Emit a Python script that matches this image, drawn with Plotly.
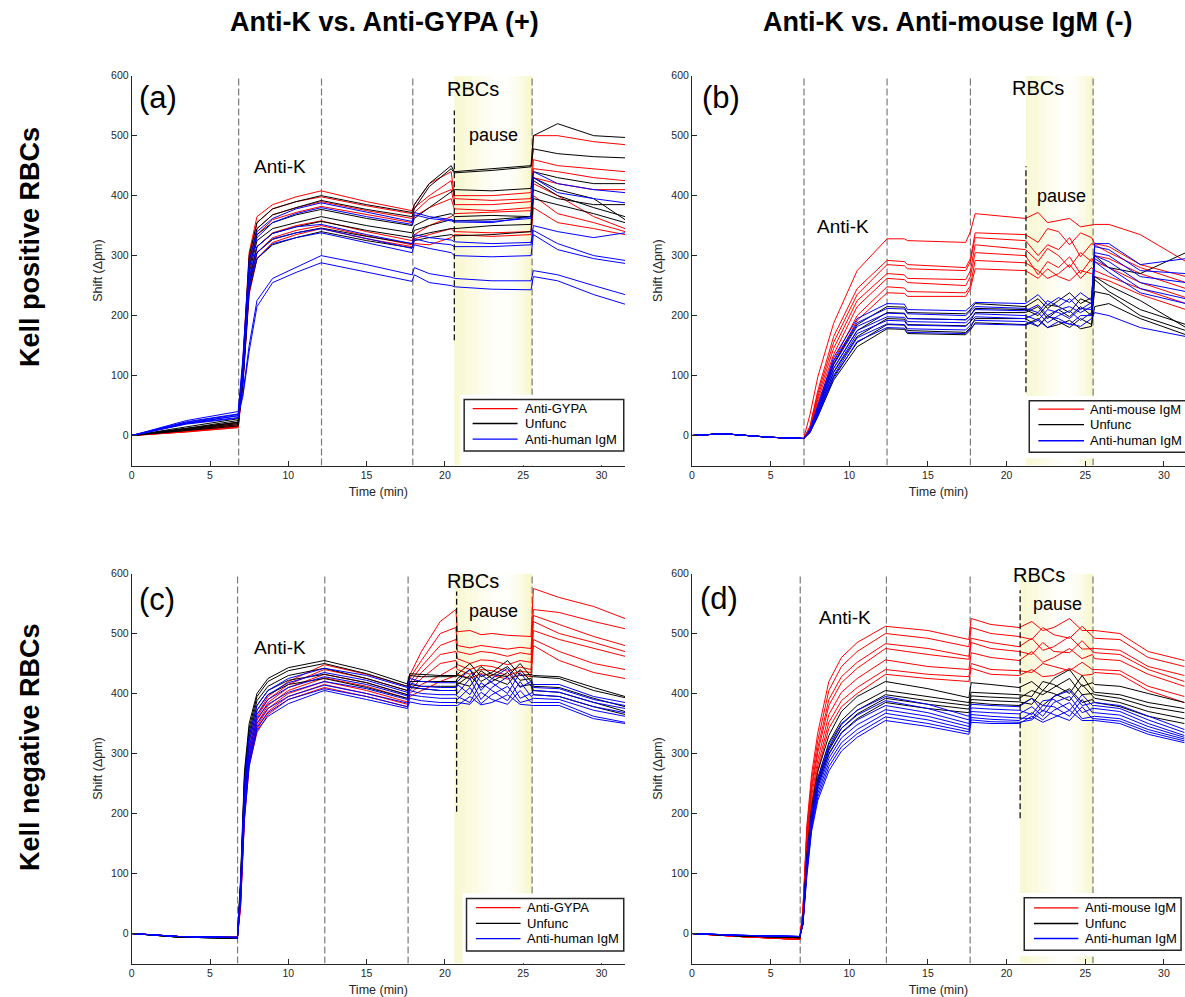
import plotly.graph_objects as go
import numpy as np

# ---------------- data ----------------
TIME_A = [0, 3.5, 6.8, 7.1, 7.5, 8.0, 9.0, 10.5, 12.1, 15.0, 17.9, 18.05, 19.0, 20.4, 20.6, 23.0, 25.5, 25.65, 27.2, 29.5, 31.5]
A_RED = [
    [0, 10, 22, 125, 305, 365, 385, 398, 408, 390, 375, 385, 420, 440, 400, 400, 405, 500, 500, 490, 485],
    [0, 9, 20, 115, 295, 355, 378, 390, 398, 383, 370, 380, 400, 425, 395, 392, 395, 460, 450, 445, 440],
    [0, 8, 18, 110, 285, 345, 368, 380, 390, 375, 362, 372, 395, 410, 385, 385, 390, 445, 440, 430, 425],
    [0, 7, 16, 105, 275, 335, 360, 372, 382, 368, 355, 365, 380, 395, 378, 375, 380, 430, 420, 410, 410],
    [0, 7, 15, 95, 255, 315, 338, 350, 358, 340, 325, 335, 350, 365, 370, 372, 375, 420, 400, 365, 345],
    [0, 6, 14, 90, 245, 305, 330, 342, 350, 333, 318, 328, 335, 345, 340, 338, 340, 400, 370, 355, 340],
    [0, 6, 13, 85, 235, 295, 322, 335, 345, 328, 315, 320, 318, 330, 335, 332, 335, 380, 355, 345, 335],
]
A_BLACK = [
    [0, 12, 22, 120, 300, 355, 378, 390, 400, 385, 372, 385, 420, 450, 440, 445, 450, 500, 520, 500, 497],
    [0, 10, 20, 110, 290, 345, 368, 380, 392, 377, 365, 378, 415, 445, 438, 442, 448, 478, 470, 465, 463],
    [0, 12, 25, 105, 280, 335, 355, 368, 377, 362, 350, 362, 380, 405, 410, 408, 412, 440, 430, 420, 420],
    [0, 9, 18, 100, 270, 325, 345, 355, 365, 350, 338, 350, 362, 370, 365, 367, 365, 430, 410, 395, 360],
    [0, 14, 28, 95, 260, 315, 337, 348, 357, 342, 330, 342, 350, 360, 358, 360, 365, 425, 400, 380, 365],
    [0, 8, 16, 90, 250, 305, 327, 338, 346, 332, 320, 332, 338, 345, 345, 350, 352, 410, 395, 385, 385],
    [0, 11, 22, 85, 240, 295, 318, 330, 340, 325, 313, 325, 330, 335, 333, 335, 340, 395, 385, 370, 355],
]
A_BLUE = [
    [0, 25, 40, 130, 290, 340, 362, 378, 388, 372, 357, 372, 365, 360, 358, 357, 362, 430, 405, 395, 388],
    [0, 23, 36, 120, 280, 330, 355, 370, 380, 365, 352, 368, 362, 358, 356, 355, 365, 440, 420, 410, 405],
    [0, 21, 33, 110, 265, 315, 337, 348, 352, 335, 320, 335, 330, 326, 323, 320, 322, 350, 340, 330, 338],
    [0, 20, 30, 100, 255, 305, 328, 338, 345, 328, 312, 328, 322, 318, 315, 315, 318, 342, 320, 300, 292],
    [0, 19, 29, 95, 245, 295, 320, 330, 338, 322, 305, 318, 312, 305, 300, 298, 300, 335, 310, 295, 287],
    [0, 22, 35, 70, 150, 225, 262, 280, 300, 285, 268, 280, 270, 264, 262, 258, 258, 275, 268, 250, 235],
    [0, 20, 33, 65, 140, 215, 255, 272, 288, 272, 257, 268, 255, 250, 248, 244, 243, 265, 258, 235, 219],
]

TIME_B = [0, 2, 5, 7.1, 7.5, 8.0, 9.0, 10.5, 12.4, 13.5, 13.7, 17.4, 17.7, 18.0,
          21.2, 22.0, 22.6, 23.3, 24.0, 24.7, 25.4, 25.6, 26.5, 28.5, 31.4]
B_RED = [
    [0, 3, -3, -5, 35, 98, 187, 275, 328, 328, 325, 322, 340, 370, 362, 372, 355, 358, 362, 348, 352, 352, 352, 335, 290],
    [0, 3, -3, -5, 15, 75, 165, 245, 292, 290, 285, 280, 295, 338, 335, 322, 345, 340, 318, 338, 330, 320, 315, 285, 265],
    [0, 3, -3, -5, 15, 70, 155, 235, 285, 283, 278, 275, 290, 330, 325, 300, 318, 310, 330, 298, 320, 318, 305, 280, 255],
    [0, 3, -3, -5, 12, 65, 145, 225, 270, 268, 262, 260, 275, 318, 310, 290, 312, 300, 280, 305, 290, 300, 295, 270, 245],
    [0, 3, -3, -5, 12, 60, 135, 215, 262, 260, 255, 250, 265, 305, 300, 268, 290, 280, 298, 270, 295, 290, 280, 255, 230],
    [0, 3, -3, -5, 10, 55, 125, 200, 248, 246, 240, 238, 250, 292, 288, 275, 262, 270, 285, 262, 280, 275, 265, 245, 220],
    [0, 3, -3, -5, 10, 50, 118, 192, 238, 237, 232, 232, 245, 278, 275, 262, 278, 265, 258, 275, 270, 265, 258, 235, 210],
]
B_BLACK = [
    [0, 3, -3, -5, 8, 45, 120, 185, 215, 214, 205, 203, 210, 220, 215, 228, 212, 225, 238, 220, 230, 300, 280, 270, 305],
    [0, 3, -3, -5, 8, 42, 112, 175, 205, 204, 195, 193, 200, 212, 210, 200, 218, 215, 205, 228, 220, 265, 250, 225, 180],
    [0, 3, -3, -5, 6, 38, 105, 165, 195, 194, 185, 183, 190, 205, 205, 215, 195, 210, 198, 215, 200, 240, 235, 200, 175],
    [0, 3, -3, -5, 5, 35, 98, 155, 185, 184, 175, 172, 180, 195, 195, 182, 200, 190, 180, 195, 185, 215, 220, 195, 168],
    [0, 3, -3, -5, 5, 32, 92, 148, 178, 177, 170, 168, 176, 188, 185, 195, 180, 185, 192, 178, 182, 260, 240, 210, 185],
]
B_BLUE = [
    [0, 3, -3, -5, 10, 50, 130, 195, 220, 219, 210, 208, 215, 222, 220, 235, 218, 230, 222, 238, 225, 320, 320, 285, 295],
    [0, 3, -3, -5, 9, 47, 124, 188, 212, 211, 203, 200, 208, 215, 212, 205, 225, 215, 228, 210, 222, 315, 310, 275, 270],
    [0, 3, -3, -5, 8, 44, 118, 182, 204, 203, 195, 193, 200, 210, 208, 218, 200, 210, 215, 205, 215, 305, 300, 265, 255],
    [0, 3, -3, -5, 7, 41, 112, 175, 198, 197, 190, 188, 195, 203, 200, 192, 210, 205, 195, 212, 210, 300, 290, 255, 240],
    [0, 3, -3, -5, 7, 38, 106, 170, 192, 191, 184, 182, 190, 198, 195, 205, 188, 200, 208, 192, 205, 295, 280, 245, 228],
    [0, 3, -3, -5, 6, 35, 100, 163, 186, 185, 178, 176, 184, 192, 190, 182, 198, 195, 185, 200, 200, 290, 272, 238, 220],
    [0, 3, -3, -5, 5, 32, 95, 157, 180, 179, 172, 170, 178, 186, 184, 192, 180, 190, 186, 182, 195, 205, 200, 180, 165],
]

TIME_C = [0, 3, 6.75, 6.95, 7.2, 7.5, 8.0, 8.7, 10.0, 12.3, 15.0, 17.6, 17.75, 18.5, 19.7, 20.7,
          20.8, 21.6, 22.3, 23.0, 24.0, 24.8, 25.5, 25.65, 27.3, 29.5, 31.5]
C_RED = [
    [0, -5, -6, 60, 220, 310, 365, 395, 420, 448, 432, 412, 430, 470, 520, 540, 503, 505, 498, 500, 497, 496, 495, 575, 560, 545, 525],
    [0, -5, -6, 55, 215, 305, 360, 390, 415, 440, 425, 405, 425, 455, 500, 510, 480, 476, 480, 478, 474, 477, 475, 540, 535, 520, 508],
    [0, -5, -6, 52, 210, 300, 355, 385, 410, 432, 418, 398, 418, 445, 480, 490, 470, 465, 470, 468, 462, 468, 465, 530, 515, 495, 480],
    [0, -5, -6, 50, 205, 295, 350, 380, 405, 426, 412, 392, 412, 435, 465, 470, 458, 450, 456, 455, 448, 455, 452, 520, 500, 485, 470],
    [0, -5, -7, 48, 200, 290, 345, 375, 400, 420, 405, 386, 405, 425, 450, 455, 448, 440, 447, 445, 437, 444, 440, 505, 490, 475, 462],
    [0, -5, -7, 45, 195, 285, 340, 370, 395, 415, 400, 382, 400, 415, 430, 445, 440, 432, 440, 438, 430, 437, 435, 490, 470, 450, 440],
    [0, -5, -7, 42, 190, 280, 335, 365, 390, 410, 395, 378, 395, 405, 420, 430, 432, 425, 433, 430, 424, 431, 428, 480, 455, 435, 425],
]
C_BLACK = [
    [0, -6, -8, 90, 270, 350, 400, 425, 443, 455, 438, 416, 433, 432, 430, 430, 432, 450, 428, 435, 455, 430, 432, 430, 428, 410, 395],
    [0, -6, -8, 85, 260, 342, 395, 420, 438, 450, 433, 412, 430, 428, 428, 428, 430, 425, 445, 432, 428, 450, 428, 428, 425, 405, 393],
    [0, -6, -8, 80, 255, 335, 388, 412, 430, 442, 425, 405, 420, 420, 420, 420, 425, 440, 420, 430, 445, 422, 425, 412, 410, 392, 378],
    [0, -6, -8, 75, 245, 328, 380, 405, 422, 432, 418, 398, 415, 412, 412, 412, 418, 412, 438, 425, 415, 440, 420, 405, 402, 385, 370],
    [0, -6, -8, 70, 235, 320, 372, 398, 415, 425, 410, 392, 410, 408, 405, 405, 415, 430, 410, 420, 435, 412, 415, 398, 395, 378, 365],
]
C_BLUE = [
    [0, -5, -6, 80, 250, 330, 380, 405, 425, 442, 430, 410, 425, 420, 418, 418, 420, 440, 405, 425, 442, 410, 420, 415, 415, 395, 385],
    [0, -5, -6, 75, 240, 320, 372, 398, 418, 435, 422, 402, 418, 412, 410, 410, 415, 398, 432, 418, 400, 435, 412, 410, 408, 390, 380],
    [0, -5, -7, 70, 230, 310, 365, 390, 410, 428, 415, 396, 412, 408, 405, 405, 400, 425, 390, 410, 428, 392, 400, 405, 402, 385, 375],
    [0, -5, -7, 65, 220, 300, 358, 382, 402, 420, 408, 390, 405, 400, 398, 398, 395, 385, 418, 405, 388, 420, 395, 398, 395, 378, 368],
    [0, -5, -7, 60, 210, 292, 350, 375, 395, 414, 400, 384, 398, 395, 392, 392, 390, 410, 383, 398, 412, 385, 390, 392, 390, 372, 362],
    [0, -5, -7, 55, 200, 285, 343, 368, 390, 408, 395, 378, 392, 388, 385, 385, 385, 382, 402, 390, 382, 405, 385, 385, 385, 362, 352],
    [0, -5, -7, 50, 190, 278, 338, 362, 383, 405, 390, 375, 386, 382, 380, 380, 380, 395, 381, 385, 398, 382, 380, 380, 380, 358, 350],
]

TIME_D = [0, 3, 6.85, 7.05, 7.3, 7.6, 8.0, 8.7, 9.5, 10.5, 12.3, 15.0, 17.6, 17.75, 19.0,
          20.8, 21.6, 22.3, 23.0, 24.0, 24.8, 25.45, 25.6, 27.2, 29.0, 31.3]
D_RED = [
    [0, -5, -10, 40, 180, 265, 335, 420, 460, 485, 512, 505, 490, 525, 515, 510, 520, 505, 510, 525, 505, 505, 505, 500, 470, 455],
    [0, -5, -10, 38, 172, 255, 322, 405, 445, 470, 500, 492, 478, 510, 500, 495, 490, 510, 498, 492, 512, 495, 492, 490, 460, 445],
    [0, -5, -10, 35, 165, 245, 310, 390, 428, 452, 483, 475, 462, 492, 485, 478, 492, 472, 478, 495, 474, 475, 475, 472, 445, 430],
    [0, -5, -10, 33, 160, 238, 302, 380, 418, 442, 475, 465, 457, 485, 475, 470, 465, 485, 470, 468, 488, 470, 468, 465, 440, 420],
    [0, -5, -10, 30, 152, 228, 290, 365, 402, 425, 456, 445, 440, 468, 460, 455, 470, 452, 460, 475, 458, 465, 458, 455, 432, 412],
    [0, -5, -9, 28, 145, 218, 280, 352, 388, 410, 440, 432, 428, 450, 440, 438, 435, 450, 445, 438, 452, 440, 440, 438, 412, 395],
    [0, -5, -9, 26, 140, 210, 272, 342, 378, 400, 432, 425, 420, 442, 432, 430, 440, 428, 430, 442, 430, 432, 435, 432, 405, 385],
]
D_BLACK = [
    [0, -4, -7, 22, 130, 210, 270, 330, 370, 395, 420, 408, 393, 418, 415, 410, 420, 405, 425, 440, 412, 418, 415, 412, 400, 385],
    [0, -4, -7, 20, 125, 200, 260, 318, 355, 380, 405, 395, 385, 402, 400, 398, 395, 420, 415, 400, 430, 405, 402, 398, 385, 375],
    [0, -4, -7, 18, 120, 195, 255, 310, 348, 372, 398, 388, 380, 396, 394, 392, 405, 398, 410, 425, 398, 400, 398, 392, 378, 368],
    [0, -4, -7, 17, 115, 190, 250, 305, 342, 366, 392, 382, 374, 390, 388, 386, 382, 405, 400, 388, 415, 395, 392, 385, 370, 358],
    [0, -4, -7, 15, 110, 185, 245, 298, 335, 358, 385, 375, 368, 385, 382, 380, 392, 380, 395, 408, 385, 390, 385, 378, 362, 350],
]
D_BLUE = [
    [0, -3, -5, 20, 125, 200, 258, 315, 350, 372, 395, 382, 362, 382, 380, 378, 392, 370, 395, 405, 380, 385, 385, 380, 362, 340],
    [0, -3, -5, 19, 120, 195, 252, 308, 342, 364, 388, 375, 356, 376, 374, 372, 365, 388, 390, 372, 398, 380, 380, 375, 356, 335],
    [0, -3, -5, 18, 115, 190, 246, 300, 334, 356, 380, 368, 350, 370, 368, 366, 378, 362, 385, 395, 368, 375, 375, 370, 350, 330],
    [0, -3, -5, 17, 110, 185, 240, 292, 326, 348, 373, 362, 345, 365, 362, 360, 358, 380, 378, 362, 390, 368, 368, 364, 345, 327],
    [0, -3, -5, 16, 105, 180, 234, 285, 318, 340, 367, 356, 340, 360, 357, 355, 368, 356, 372, 385, 358, 362, 362, 358, 340, 324],
    [0, -3, -5, 15, 100, 175, 228, 278, 311, 333, 361, 350, 336, 356, 353, 352, 356, 372, 365, 355, 378, 358, 358, 354, 336, 321],
    [0, -3, -5, 14, 95, 170, 222, 271, 304, 327, 355, 345, 332, 352, 350, 350, 362, 352, 360, 372, 355, 355, 355, 350, 332, 318],
]

# injection (grey dashed) times, pause marker and pause band per panel
EVENTS_A = [6.83, 12.12, 17.95, 25.57]
EVENTS_B = [7.12, 12.4, 17.7, 25.5]
EVENTS_C = [6.76, 12.33, 17.65, 25.57]
EVENTS_D = [6.88, 12.36, 17.68, 25.49]
PAUSE_A, PAUSE_B, PAUSE_C, PAUSE_D = 20.6, 21.23, 20.75, 20.86
BAND_A, BAND_B, BAND_C, BAND_D = (20.6, 25.57), (21.23, 25.5), (20.6, 25.57), (20.86, 25.49)

LEGEND_POS = ["Anti-GYPA", "Unfunc", "Anti-human IgM"]
LEGEND_NEG = ["Anti-mouse IgM", "Unfunc", "Anti-human IgM"]
COL_TITLES = ["Anti-K vs. Anti-GYPA (+)", "Anti-K vs. Anti-mouse IgM (-)"]
ROW_TITLES = ["Kell positive RBCs", "Kell negative RBCs"]
X_TICKS = [0, 5, 10, 15, 20, 25, 30]
Y_TICKS = [0, 100, 200, 300, 400, 500, 600]

# ---------------- layout helpers ----------------
W, H = 1185, 997
FONT = "Liberation Sans, Arial, Helvetica, sans-serif"
AX = "#262626"
COLORS = ["#ff0000", "#000000", "#0000ff"]

panels = [
    dict(k="", lab="(a)", T=TIME_A, groups=[A_RED, A_BLACK, A_BLUE], ev=EVENTS_A, pz=PAUSE_A, pspan=(159, 542),
         band=BAND_A, xd=(131.7, 625), yd=(75.7, 465.5), xr=(0, 31.5), names=LEGEND_POS,
         labpos=(1.68, 564), antik=(9.45, 448), rbcs=(21.8, 577), pause=(23.1, 501),
         leg=dict(box=(21.23, 31.42, 60, -26), line=(21.77, 24.64), tx=24.96, rows=(45, 20, -6), wb=-50)),
    dict(k="2", lab="(b)", T=TIME_B, groups=[B_RED, B_BLACK, B_BLUE], ev=EVENTS_B, pz=PAUSE_B, pspan=(72, 449),
         band=BAND_B, xd=(692, 1185), yd=(75.7, 465.5), xr=(0, 31.34), names=LEGEND_NEG,
         labpos=(1.86, 563), antik=(9.58, 348), rbcs=(21.97, 580), pause=(23.5, 400),
         leg=dict(box=(21.44, 31.7, 58, -28), line=(22.02, 24.92), tx=25.19, rows=(44, 18, -8.7), wb=-38)),
    dict(k="3", lab="(c)", T=TIME_C, groups=[C_RED, C_BLACK, C_BLUE], ev=EVENTS_C, pz=PAUSE_C, pspan=(203, 570),
         band=BAND_C, xd=(131.7, 625), yd=(573.5, 963.5), xr=(0, 31.5), names=LEGEND_POS,
         labpos=(1.6, 557), antik=(9.47, 477), rbcs=(21.8, 588), pause=(23.1, 538),
         leg=dict(box=(21.38, 31.42, 58.5, -29), line=(21.98, 24.83), tx=25.1, rows=(43, 17, -8.7), wb=-50)),
    dict(k="4", lab="(d)", T=TIME_D, groups=[D_RED, D_BLACK, D_BLUE], ev=EVENTS_D, pz=PAUSE_D, pspan=(192, 572),
         band=BAND_D, xd=(692, 1185), yd=(573.5, 963.5), xr=(0, 31.34), names=LEGEND_NEG,
         labpos=(1.71, 558), antik=(9.7, 526), rbcs=(22.08, 597), pause=(23.23, 550),
         leg=dict(box=(21.12, 31.09, 59.4, -27.8), line=(21.74, 24.56), tx=24.85, rows=(42.8, 16.7, -8.3), wb=-38)),
]

fig = go.Figure()
shapes, annos = [], []
layout = {}

PROF_F = [0.0, 0.15, 0.35, 0.55, 0.68, 0.85, 0.97, 1.0]
PROF_V = [0.75, 0.58, 0.3, 0.04, 0.05, 0.38, 0.8, 0.92]
YEL = np.array([246, 245, 192])
NSTRIP = 30

for p in panels:
    xa, ya = "x" + p["k"], "y" + p["k"]
    for gi, grp in enumerate(p["groups"]):
        for vals in grp:
            if len(vals) != len(p["T"]):
                raise ValueError("length mismatch in panel " + p["lab"])
            fig.add_trace(go.Scatter(x=p["T"], y=vals, mode="lines", xaxis=xa, yaxis=ya,
                                     line=dict(color=COLORS[gi], width=1), showlegend=False,
                                     hoverinfo="skip"))
    layout["xaxis" + p["k"]] = dict(
        domain=[p["xd"][0] / W, p["xd"][1] / W], range=list(p["xr"]), anchor=ya,
        showline=True, linecolor=AX, linewidth=1, ticks="inside", ticklen=5, tickwidth=1, tickcolor=AX,
        tickvals=X_TICKS, tickfont=dict(size=10.5, color=AX, family=FONT), showgrid=False, zeroline=False,
        title=dict(text="Time (min)", font=dict(size=12.5, color=AX, family=FONT), standoff=7), automargin=False)
    layout["yaxis" + p["k"]] = dict(
        domain=[1 - p["yd"][1] / H, 1 - p["yd"][0] / H], range=[-50, 600], anchor=xa,
        showline=True, linecolor=AX, linewidth=1, ticks="inside", ticklen=5, tickwidth=1, tickcolor=AX,
        tickvals=Y_TICKS, tickfont=dict(size=10.5, color=AX, family=FONT), showgrid=False, zeroline=False,
        title=dict(text="Shift (Δpm)", font=dict(size=12.5, color=AX, family=FONT), standoff=5), automargin=False)
    # pause band with a soft gradient
    b0, b1 = p["band"]
    for i in range(NSTRIP):
        f = (i + 0.5) / NSTRIP
        v = float(np.interp(f, PROF_F, PROF_V))
        c = 255 - v * (255 - YEL)
        shapes.append(dict(type="rect", xref=xa, yref=ya, layer="below",
                           x0=b0 + (b1 - b0) * i / NSTRIP, x1=b0 + (b1 - b0) * (i + 1) / NSTRIP + 0.01,
                           y0=-50, y1=600, line=dict(width=0),
                           fillcolor="rgb(%d,%d,%d)" % tuple(int(round(q)) for q in c)))
    for t in p["ev"]:
        shapes.append(dict(type="line", xref=xa, yref=ya, layer="below", x0=t, x1=t, y0=-50, y1=600,
                           line=dict(color="#7a7a7a", width=1.2, dash="7px,3px")))
    shapes.append(dict(type="line", xref=xa, yref=ya, x0=p["pz"], x1=p["pz"], y0=p["pspan"][0], y1=p["pspan"][1],
                       line=dict(color="#000000", width=1.2, dash="6px,3px")))
    # legend (box, samples, labels)
    lg = p["leg"]
    x0b, x1b, ytop, ybot = lg["box"]
    shapes.append(dict(type="rect", xref=xa, yref=ya, x0=x0b - 0.25, x1=x1b + 0.05, y0=lg["wb"], y1=ytop + 8,
                       fillcolor="white", line=dict(width=0)))
    shapes.append(dict(type="rect", xref=xa, yref=ya, x0=x0b, x1=x1b, y0=ybot, y1=ytop,
                       fillcolor="white", line=dict(color=AX, width=1.5)))
    for gi, (name, yr) in enumerate(zip(p["names"], lg["rows"])):
        shapes.append(dict(type="line", xref=xa, yref=ya, x0=lg["line"][0], x1=lg["line"][1], y0=yr, y1=yr,
                           line=dict(color=COLORS[gi], width=1.3)))
        annos.append(dict(xref=xa, yref=ya, x=lg["tx"], y=yr, text=name, showarrow=False, xanchor="left",
                          yanchor="middle", font=dict(size=13, color="#000000", family=FONT)))
    annos.append(dict(xref=xa, yref=ya, x=p["labpos"][0], y=p["labpos"][1], text=p["lab"], showarrow=False,
                      xanchor="center", yanchor="middle", font=dict(size=31, color="#000000", family=FONT)))
    annos.append(dict(xref=xa, yref=ya, x=p["antik"][0], y=p["antik"][1], text="Anti-K", showarrow=False,
                      xanchor="center", yanchor="middle", font=dict(size=19, color="#000000", family=FONT)))
    annos.append(dict(xref=xa, yref=ya, x=p["rbcs"][0], y=p["rbcs"][1], text="RBCs", showarrow=False,
                      xanchor="center", yanchor="middle", font=dict(size=20, color="#000000", family=FONT)))
    annos.append(dict(xref=xa, yref=ya, x=p["pause"][0], y=p["pause"][1], text="pause", showarrow=False,
                      xanchor="center", yanchor="middle", font=dict(size=18, color="#000000", family=FONT)))

for txt, cx in zip(COL_TITLES, [385, 947]):
    annos.append(dict(xref="paper", yref="paper", x=cx / W, y=1 - 22 / H, text="<b>" + txt + "</b>",
                      showarrow=False, xanchor="center", yanchor="middle",
                      font=dict(size=27, color="#000000", family=FONT)))
for txt, cy in zip(ROW_TITLES, [247, 747]):
    annos.append(dict(xref="paper", yref="paper", x=30 / W, y=1 - cy / H, text="<b>" + txt + "</b>",
                      showarrow=False, textangle=-90, xanchor="center", yanchor="middle",
                      font=dict(size=27, color="#000000", family=FONT)))

fig.update_layout(width=W, height=H, margin=dict(l=0, r=0, t=0, b=0), paper_bgcolor="white",
                  plot_bgcolor="white", showlegend=False, shapes=shapes, annotations=annos,
                  font=dict(family=FONT), **layout)

fig.write_html("out.html", config={"displayModeBar": False},
               post_script="document.body.style.margin='0px';")
